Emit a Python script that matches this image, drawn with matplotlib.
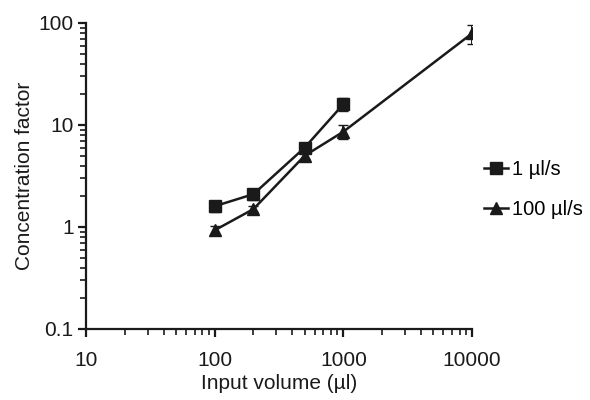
import matplotlib.pyplot as plt
import numpy as np

plt.rcParams['font.family'] = ['Liberation Sans', 'DejaVu Sans']

# data
vol_slow = [100, 200, 500, 1000]
cf_slow = [1.6, 2.1, 6.0, 16.0]
err_slow = [0.2, 0.25, 0.4, 2.2]

vol_fast = [100, 200, 500, 1000, 10000]
cf_fast = [0.93, 1.5, 5.0, 8.6, 79.0]
err_fast = [0.1, 0.1, 0.4, 1.3, 17.0]

labels = ['1 \u00b5l/s', '100 \u00b5l/s']

fig = plt.figure(figsize=(5.9, 4.0), dpi=100)
ax = fig.add_axes([0.146, 0.1775, 0.654, 0.765])

ax.errorbar(vol_slow, cf_slow, yerr=err_slow, color='#1a1a1a', marker='s', ms=8,
            lw=1.8, capsize=3.5, elinewidth=1.4, label=labels[0])
ax.errorbar(vol_fast, cf_fast, yerr=err_fast, color='#1a1a1a', marker='^', ms=9,
            lw=1.8, capsize=3.5, elinewidth=1.4, label=labels[1])

ax.set_xscale('log')
ax.set_yscale('log')
ax.set_xlim(10, 10000)
ax.set_ylim(0.1, 100)
ax.set_xticks([10, 100, 1000, 10000])
ax.set_xticklabels(['10', '100', '1000', '10000'])
ax.set_yticks([0.1, 1, 10, 100])
ax.set_yticklabels(['0.1', '1', '10', '100'])

for s in ['top', 'right']:
    ax.spines[s].set_visible(False)
for s in ['left', 'bottom']:
    ax.spines[s].set_linewidth(1.6)
    ax.spines[s].set_color('#1a1a1a')
ax.tick_params(which='major', direction='out', length=6, width=1.6, labelsize=15, pad=3, colors='#1a1a1a')
ax.tick_params(which='minor', direction='out', length=4, width=1.2, colors='#1a1a1a')
ax.tick_params(axis='x', which='major', pad=10)

ax.set_xlabel('Input volume (\u00b5l)', fontsize=15, color='#1a1a1a', labelpad=3)
ax.set_ylabel('Concentration factor', fontsize=15, color='#1a1a1a', labelpad=3)

handles, labs = ax.get_legend_handles_labels()
handles = [h[0] for h in handles]
fig.legend(handles, labs, loc='center left', bbox_to_anchor=(0.79, 0.526), frameon=False,
           fontsize=14.5, handlelength=1.2, handletextpad=0.2, labelspacing=1.05)

fig.savefig('out.png', dpi=100)
